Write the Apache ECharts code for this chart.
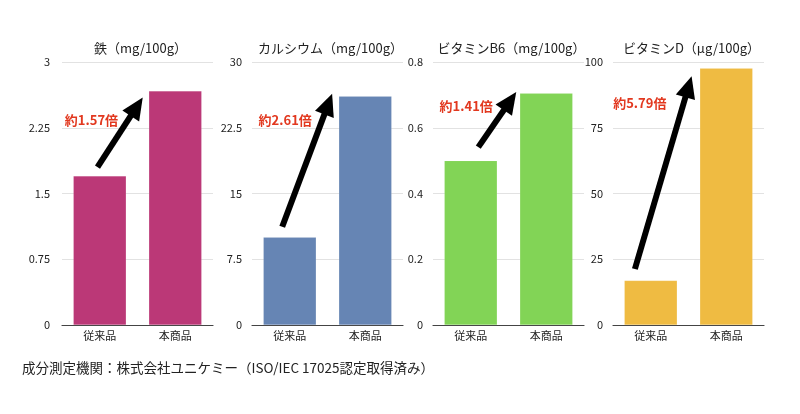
<!DOCTYPE html>
<html>
<head>
<meta charset="utf-8">
<script src="https://cdn.jsdelivr.net/npm/echarts@6/dist/echarts.min.js"></script>
<style>
  html, body { margin: 0; padding: 0; background: #fff; }
  #main { width: 800px; height: 414px; }
</style>
</head>
<body>
<div id="main"></div>
<script>
var categories = ['従来品', '本商品'];
var titles = ['鉄（mg/100g）', 'カルシウム（mg/100g）', 'ビタミンB6（mg/100g）', 'ビタミンD（μg/100g）'];
var ironValues = [1.7, 2.67];
var calciumValues = [10.0, 26.1];
var b6Values = [0.5, 0.705];
var vitDValues = [16.9, 97.6];
var axisMax = [3, 30, 0.8, 100];
var axisStep = [0.75, 7.5, 0.2, 25];
var barColors = ['#bb3877', '#6685b4', '#82d456', '#efbb42'];
var ratioLabels = ['約1.57倍', '約2.61倍', '約1.41倍', '約5.79倍'];
// arrow tail / head and label spot, in [category position, value]
var arrowFrom = [[-0.03, 1.80], [-0.10, 11.2], [0.10, 0.541], [-0.21, 21.3]];
var arrowTo = [[0.49, 2.49], [0.51, 25.2], [0.52, 0.681], [0.50, 90.6]];
var labelAt = [[-0.11, 2.34], [-0.06, 23.4], [-0.06, 0.666], [-0.145, 84.4]];

var allValues = [ironValues, calciumValues, b6Values, vitDValues];
var gridLefts = [62, 252, 433, 613];
var gridWidth = 151;
var font = '"Noto Sans CJK JP", "Noto Sans", sans-serif';

var grids = [], xAxes = [], yAxes = [], series = [], titleList = [];

for (var i = 0; i < 4; i++) {
    grids.push({ left: gridLefts[i], width: gridWidth, top: 62, bottom: 89 });

    titleList.push({
        text: titles[i],
        left: gridLefts[i] + gridWidth / 2 - 2,
        top: 37,
        textAlign: 'center',
        textStyle: { fontSize: 13, fontWeight: 'normal', color: '#222', fontFamily: font }
    });

    xAxes.push({
        type: 'category', gridIndex: i, data: categories,
        axisLine: { lineStyle: { color: '#444', width: 1.2 } },
        axisTick: { show: false },
        axisLabel: { color: '#222', fontSize: 11, margin: 5, fontFamily: font }
    });
    // hidden axis for placing the arrows between categories
    xAxes.push({
        type: 'value', gridIndex: i, min: -0.5, max: 1.5, show: false
    });

    yAxes.push({
        type: 'value', gridIndex: i, min: 0, max: axisMax[i], interval: axisStep[i],
        axisLine: { show: false },
        axisTick: { show: false },
        splitLine: { lineStyle: { color: '#e2e2e2' } },
        axisLabel: { color: '#222', fontSize: 11, margin: i === 0 ? 12 : 10, fontFamily: font }
    });

    series.push({
        type: 'bar',
        xAxisIndex: i * 2, yAxisIndex: i,
        data: allValues[i],
        barWidth: '70%',
        itemStyle: { color: barColors[i], borderColor: 'rgba(255,255,255,0.2)', borderWidth: 0.5 },
        silent: true
    });

    series.push({
        type: 'line',
        xAxisIndex: i * 2 + 1, yAxisIndex: i,
        data: [],
        silent: true,
        markLine: {
            silent: true,
            symbol: ['none', 'triangle'],
            symbolSize: [20, 22],
            label: { show: false },
            lineStyle: { color: '#000', width: 6, type: 'solid' },
            data: [[{ coord: arrowFrom[i] }, { coord: arrowTo[i] }]]
        },
        markPoint: {
            silent: true,
            symbol: 'circle',
            symbolSize: 0,
            label: {
                show: true, position: 'inside',
                formatter: ratioLabels[i],
                color: '#e2381f', fontSize: 13, fontWeight: 'bold', fontFamily: font
            },
            data: [{ coord: labelAt[i] }]
        }
    });
}

var myChart = echarts.init(document.getElementById('main'));
myChart.setOption({
    animation: false,
    backgroundColor: '#fff',
    title: titleList,
    grid: grids,
    xAxis: xAxes,
    yAxis: yAxes,
    series: series,
    graphic: [{
        type: 'text', left: 22, top: 361,
        style: {
            text: '成分測定機関：株式会社ユニケミー（ISO/IEC 17025認定取得済み）',
            fontSize: 13.5, fill: '#222', fontFamily: font
        }
    }]
});
</script>
</body>
</html>
